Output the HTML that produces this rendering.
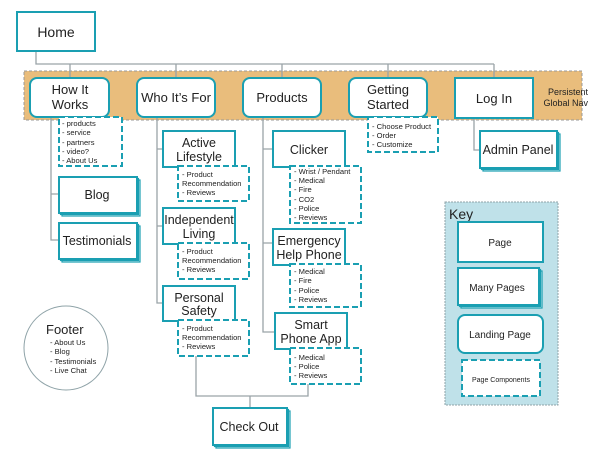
<!DOCTYPE html>
<html><head><style>body{margin:0;background:#fff}svg{display:block}text{font-family:"Liberation Sans",Arial,sans-serif;fill:#222}</style></head><body>
<svg width="604" height="453" viewBox="0 0 604 453" xmlns="http://www.w3.org/2000/svg">
<defs>
<style>
.pg{fill:#fff;stroke:#1a9fb2;stroke-width:2}
.pb{fill:#fff;stroke:#1a9fb2;stroke-width:1.2}
.dc{fill:#fff;stroke:#1a9fb2;stroke-width:2;stroke-dasharray:6,3}
.ln{fill:none;stroke:#9aa3a8;stroke-width:1.3}
.t{font-size:12.5px;text-anchor:middle}
.s{font-size:7.6px}
</style>
</defs>
<rect x="24" y="71" width="558" height="49" fill="#e9bd7c" stroke="#999" stroke-dasharray="3,2"/>
<text x="588" y="95" style="font-size:9px" text-anchor="end">Persistent</text>
<text x="588" y="106" style="font-size:9px" text-anchor="end">Global Nav</text>
<path class="ln" d="M36 51V64H494M70 64V78M176 64V78M282 64V78M388 64V78M494 64V78"/>
<path class="ln" d="M51 118V240H59M51 194H59M157 118V303H163M157 149H163M157 226H163M263 118V332H275M263 149H273M263 243H273M474 118V150H480"/>
<path class="ln" d="M196 356V396H308V384M250 396V408"/>
<rect class="pg" x="17" y="12" width="78" height="39"/>
<text class="t" x="56" y="37" style="font-size:14px">Home</text>
<rect class="pg" x="30" y="78" width="79" height="39" rx="7"/>
<text class="t" x="70" y="94" style="font-size:13px">How It</text><text class="t" x="70" y="109" style="font-size:13px">Works</text>
<rect class="pg" x="137" y="78" width="78" height="39" rx="7"/>
<text class="t" x="176" y="102" style="font-size:13px">Who It’s For</text>
<rect class="pg" x="243" y="78" width="78" height="39" rx="7"/>
<text class="t" x="282" y="102" style="font-size:13px">Products</text>
<rect class="pg" x="349" y="78" width="78" height="39" rx="7"/>
<text class="t" x="388" y="94" style="font-size:13px">Getting</text><text class="t" x="388" y="109" style="font-size:13px">Started</text>
<rect class="pg" x="455" y="78" width="78" height="40"/>
<text class="t" x="494" y="103" style="font-size:13px">Log In</text>
<rect class="dc" x="59" y="117" width="63" height="49"/>
<g class="s"><text x="62" y="126">- products</text><text x="62" y="135">- service</text><text x="62" y="145">- partners</text><text x="62" y="154">- video?</text><text x="62" y="163">- About Us</text></g>
<rect class="pb" x="62" y="180" width="78" height="36"/><rect class="pb" x="60.5" y="178.5" width="78" height="36"/><rect class="pg" x="59" y="177" width="78" height="36"/>
<text class="t" x="97" y="199">Blog</text>
<rect class="pb" x="62" y="226" width="78" height="36"/><rect class="pb" x="60.5" y="224.5" width="78" height="36"/><rect class="pg" x="59" y="223" width="78" height="36"/>
<text class="t" x="97" y="245">Testimonials</text>
<rect class="pg" x="163" y="131" width="72" height="36"/>
<text class="t" x="199" y="147">Active</text><text class="t" x="199" y="161">Lifestyle</text>
<rect class="dc" x="178" y="166" width="71" height="35"/>
<g class="s"><text x="182" y="177">- Product</text><text x="182" y="186">Recommendation</text><text x="182" y="195">- Reviews</text></g>
<rect class="pg" x="163" y="208" width="72" height="36"/>
<text class="t" x="199" y="224">Independent</text><text class="t" x="199" y="238">Living</text>
<rect class="dc" x="178" y="243" width="71" height="36"/>
<g class="s"><text x="182" y="254">- Product</text><text x="182" y="263">Recommendation</text><text x="182" y="272">- Reviews</text></g>
<rect class="pg" x="163" y="286" width="72" height="35"/>
<text class="t" x="199" y="302">Personal</text><text class="t" x="199" y="315">Safety</text>
<rect class="dc" x="178" y="320" width="71" height="36"/>
<g class="s"><text x="182" y="331">- Product</text><text x="182" y="340">Recommendation</text><text x="182" y="349">- Reviews</text></g>
<rect class="pg" x="273" y="131" width="72" height="36"/>
<text class="t" x="309" y="154">Clicker</text>
<rect class="dc" x="290" y="166" width="71" height="57"/>
<g class="s"><text x="294" y="174">- Wrist / Pendant</text><text x="294" y="183">- Medical</text><text x="294" y="192">- Fire</text><text x="294" y="202">- CO2</text><text x="294" y="211">- Police</text><text x="294" y="220">- Reviews</text></g>
<rect class="pg" x="273" y="229" width="72" height="36"/>
<text class="t" x="309" y="245">Emergency</text><text class="t" x="309" y="259">Help Phone</text>
<rect class="dc" x="290" y="264" width="71" height="43"/>
<g class="s"><text x="294" y="274">- Medical</text><text x="294" y="283">- Fire</text><text x="294" y="293">- Police</text><text x="294" y="302">- Reviews</text></g>
<rect class="pg" x="275" y="313" width="72" height="36"/>
<text class="t" x="311" y="329">Smart</text><text class="t" x="311" y="343">Phone App</text>
<rect class="dc" x="290" y="348" width="71" height="36"/>
<g class="s"><text x="294" y="360">- Medical</text><text x="294" y="369">- Police</text><text x="294" y="378">- Reviews</text></g>
<rect class="dc" x="368" y="117" width="70" height="35"/>
<g class="s"><text x="372" y="129">- Choose Product</text><text x="372" y="138">- Order</text><text x="372" y="147">- Customize</text></g>
<rect class="pb" x="483" y="134" width="77" height="37"/><rect class="pb" x="481.5" y="132.5" width="77" height="37"/><rect class="pg" x="480" y="131" width="77" height="37"/>
<text class="t" x="518" y="154">Admin Panel</text>
<rect class="pb" x="216" y="411" width="74" height="37"/><rect class="pb" x="214.5" y="409.5" width="74" height="37"/><rect class="pg" x="213" y="408" width="74" height="37"/>
<text class="t" x="249" y="431">Check Out</text>
<circle cx="66" cy="348" r="42" fill="#fff" stroke="#8fa3a8" stroke-width="1"/>
<text x="46" y="334" style="font-size:13px">Footer</text>
<g class="s"><text x="50" y="345">- About Us</text><text x="50" y="354">- Blog</text><text x="50" y="364">- Testimonials</text><text x="50" y="373">- Live Chat</text></g>
<rect x="445" y="202" width="113" height="203" fill="#bfe1e9" stroke="#8fa3a8" stroke-dasharray="2,1"/>
<text x="449" y="219" style="font-size:14px">Key</text>
<rect class="pg" x="458" y="222" width="85" height="40"/>
<text class="t" x="500" y="246" style="font-size:10px">Page</text>
<rect class="pb" x="461" y="271" width="81" height="37"/><rect class="pb" x="459.5" y="269.5" width="81" height="37"/><rect class="pg" x="458" y="268" width="81" height="37"/>
<text class="t" x="497" y="291" style="font-size:10px">Many Pages</text>
<rect class="pg" x="458" y="315" width="85" height="38" rx="7"/>
<text class="t" x="500" y="338" style="font-size:10px">Landing Page</text>
<rect class="dc" x="462" y="360" width="78" height="36"/>
<text class="t" x="501" y="382" style="font-size:7px">Page Components</text>
</svg>
</body></html>
